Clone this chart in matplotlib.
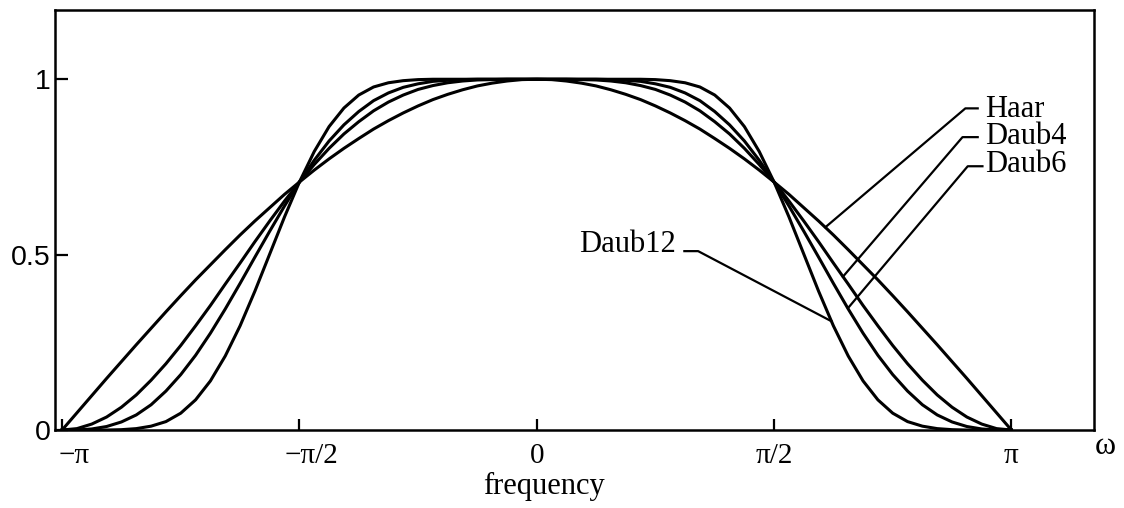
import numpy as np
import matplotlib

matplotlib.use("Agg")
import matplotlib.pyplot as plt
import matplotlib.transforms as mtransforms

plt.rcParams.update({"font.family": "Liberation Serif", "axes.linewidth": 1.8})

# frequency samples, in units of pi (steps of pi/32 from -pi to pi)
omega_over_pi = [m / 32 for m in range(-32, 33)]

# |H(omega)|, left to right
haar = [0.000, 0.049, 0.098, 0.147, 0.195, 0.243, 0.290, 0.337,
        0.383, 0.428, 0.471, 0.514, 0.556, 0.596, 0.634, 0.672,
        0.707, 0.741, 0.773, 0.803, 0.831, 0.858, 0.882, 0.904,
        0.924, 0.942, 0.957, 0.970, 0.981, 0.989, 0.995, 0.999,
        1.000,
        0.999, 0.995, 0.989, 0.981, 0.970, 0.957, 0.942, 0.924,
        0.904, 0.882, 0.858, 0.831, 0.803, 0.773, 0.741, 0.707,
        0.672, 0.634, 0.596, 0.556, 0.514, 0.471, 0.428, 0.383,
        0.337, 0.290, 0.243, 0.195, 0.147, 0.098, 0.049, 0.000]
daub4 = [0.000, 0.004, 0.017, 0.037, 0.065, 0.100, 0.142, 0.189,
         0.241, 0.297, 0.355, 0.416, 0.476, 0.537, 0.596, 0.653,
         0.707, 0.757, 0.803, 0.844, 0.879, 0.910, 0.935, 0.955,
         0.971, 0.982, 0.990, 0.995, 0.998, 0.999, 1.000, 1.000,
         1.000,
         1.000, 1.000, 0.999, 0.998, 0.995, 0.990, 0.982, 0.971,
         0.955, 0.935, 0.910, 0.879, 0.844, 0.803, 0.757, 0.707,
         0.653, 0.596, 0.537, 0.476, 0.416, 0.355, 0.297, 0.241,
         0.189, 0.142, 0.100, 0.065, 0.037, 0.017, 0.004, 0.000]
daub6 = [0.000, 0.000, 0.003, 0.010, 0.023, 0.043, 0.072, 0.111,
         0.158, 0.213, 0.276, 0.345, 0.418, 0.493, 0.567, 0.639,
         0.707, 0.769, 0.824, 0.870, 0.908, 0.939, 0.961, 0.977,
         0.987, 0.994, 0.997, 0.999, 1.000, 1.000, 1.000, 1.000,
         1.000,
         1.000, 1.000, 1.000, 1.000, 0.999, 0.997, 0.994, 0.987,
         0.977, 0.961, 0.939, 0.908, 0.870, 0.824, 0.769, 0.707,
         0.639, 0.567, 0.493, 0.418, 0.345, 0.276, 0.213, 0.158,
         0.111, 0.072, 0.043, 0.023, 0.010, 0.003, 0.000, 0.000]
daub12 = [0.000, 0.000, 0.000, 0.000, 0.001, 0.004, 0.011, 0.024,
          0.048, 0.086, 0.140, 0.211, 0.297, 0.396, 0.502, 0.608,
          0.707, 0.794, 0.865, 0.918, 0.955, 0.978, 0.990, 0.996,
          0.999, 1.000, 1.000, 1.000, 1.000, 1.000, 1.000, 1.000,
          1.000,
          1.000, 1.000, 1.000, 1.000, 1.000, 1.000, 1.000, 0.999,
          0.996, 0.990, 0.978, 0.955, 0.918, 0.865, 0.794, 0.707,
          0.608, 0.502, 0.396, 0.297, 0.211, 0.140, 0.086, 0.048,
          0.024, 0.011, 0.004, 0.001, 0.000, 0.000, 0.000, 0.000]

xtick_pos = [-1.0, -0.5, 0.0, 0.5, 1.0]
xtick_labels = ["\u2212\u03c0", "\u2212\u03c0/2", "0", "\u03c0/2", "\u03c0"]
ytick_pos = [0, 0.5, 1]
ytick_labels = ["0", "0.5", "1"]

# label name, text anchor (x/pi, y), leader: start, knee, end on curve
labels = [
    ("Haar", (0.945, 0.915), (0.929, 0.917), (0.903, 0.917), (0.608, 0.578)),
    ("Daub4", (0.945, 0.836), (0.929, 0.835), (0.897, 0.835), (0.645, 0.437)),
    ("Daub6", (0.945, 0.758), (0.939, 0.752), (0.908, 0.752), (0.656, 0.348)),
    ("Daub12", (0.294, 0.530), (0.311, 0.510), (0.340, 0.510), (0.621, 0.310)),
]

fig = plt.figure(figsize=(11.24, 5.08), dpi=100)
ax = fig.add_axes([0.0489, 0.1535, 0.9244, 0.8265])

w = np.array(omega_over_pi) * np.pi
for ys in (haar, daub4, daub6, daub12):
    ax.plot(w, ys, color="black", linewidth=2.2, solid_joinstyle="round")

for name, txt, p0, p1, p2 in labels:
    xs = [p0[0] * np.pi, p1[0] * np.pi, p2[0] * np.pi]
    ax.plot(xs, [p0[1], p1[1], p2[1]], color="black", linewidth=1.6)
    ha = "right" if txt[0] < 0.5 else "left"
    ax.text(txt[0] * np.pi, txt[1], name, ha=ha, va="center", fontsize=22)

ax.set_xlim(-1.015 * np.pi, 1.174 * np.pi)
ax.set_ylim(0, 1.197)

ax.set_xticks(np.array(xtick_pos) * np.pi)
ax.set_xticklabels(xtick_labels, fontsize=21)
ax.set_yticks(ytick_pos)
ax.set_yticklabels(ytick_labels, fontsize=20.5, family="Liberation Sans")
ax.tick_params(axis="x", direction="in", length=8, width=1.6, pad=9)
ax.tick_params(axis="y", direction="in", length=9, width=1.6, pad=3)

# the negative labels sit a bit right of their ticks in the original
shift = mtransforms.ScaledTranslation(12 / 100, 0, fig.dpi_scale_trans)
for lbl in ax.get_xticklabels()[:2]:
    lbl.set_transform(lbl.get_transform() + shift)

fig.text(0.484, 0.043, "frequency", ha="center", va="center", fontsize=22)
fig.text(0.983, 0.122, "\u03c9", ha="center", va="center", fontsize=23)

fig.savefig("out.png", dpi=100)
